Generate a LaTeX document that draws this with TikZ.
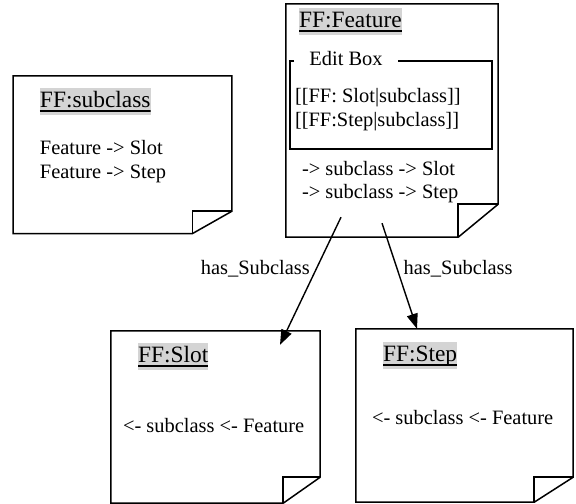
\documentclass[tikz,border=0pt]{standalone}
\usepackage{fontspec}
\setmainfont{Liberation Serif}
\usepackage{tikz}
\usetikzlibrary{arrows.meta,positioning}

\newcommand{\bodysize}{\fontsize{20.5}{24}\selectfont}
\newcommand{\titlesize}{\fontsize{23.5}{27}\selectfont}
% page outline with the folded corner (node, fold width, fold height)
\newcommand{\dogear}[3]{%
  \draw[noteline] (#1.south west) -- (#1.north west) -- (#1.north east)
    -- ([yshift=#3]#1.south east) -- ([xshift=-#2]#1.south east) -- cycle;
  \draw[noteline] ([xshift=-#2]#1.south east) -- ([xshift=-#2,yshift=#3]#1.south east)
    -- ([yshift=#3]#1.south east);}

\begin{document}
\begin{tikzpicture}[
    x=1bp, y=-1bp,
    note/.style={rectangle, inner sep=0pt},
    noteline/.style={line width=1.5bp, line join=miter},
    title/.style={anchor=base west, fill=black!17, inner sep=0pt, text height=20bp, text depth=7bp, font=\titlesize,
      path picture={\draw[line width=1.5bp] ([yshift=4bp]path picture bounding box.south west) -- ([yshift=4bp]path picture bounding box.south east);}},
    body/.style={anchor=base west, inner sep=0pt, font=\bodysize},
    arrow/.style={-{Triangle[length=15bp,width=11bp]}, line width=1.4bp},
    lbl/.style={inner sep=0pt, font=\bodysize}
]
    \useasboundingbox (0,0) rectangle (576,504);

    % Pages
    \node[note, minimum width=218.4bp, minimum height=157.3bp] (subclass) at (122.5,154.7) {};
    \node[note, minimum width=212bp, minimum height=233bp] (feature) at (392,120.5) {};
    \node[note, minimum width=209bp, minimum height=172bp] (slot) at (215.5,417) {};
    \node[note, minimum width=217bp, minimum height=173bp] (step) at (464.5,415.5) {};

    \dogear{subclass}{39.4bp}{22.3bp}
    \dogear{feature}{40bp}{33bp}
    \dogear{slot}{37bp}{26bp}
    \dogear{step}{39bp}{25bp}

    % FF:subclass
    \node[title] (subT) at ([xshift=26.7bp,yshift=-32bp]subclass.north west) {FF:subclass};
    \node[body] (sub1) at ([xshift=26.7bp,yshift=-79bp]subclass.north west) {Feature -> Slot};
    \node[body] (sub2) at ([yshift=-24bp]sub1.base west) {Feature -> Step};

    % FF:Feature
    \node[title] (featT) at ([xshift=13bp,yshift=-24bp]feature.north west) {FF:Feature};
    \node[note, minimum width=202bp, minimum height=88bp] (editbox) at (391,105) {};
    \node[lbl, anchor=base, inner xsep=15bp] (edithead) at (346,66) {Edit Box};
    \draw[noteline] (edithead.west |- editbox.north) -- (editbox.north west) -- (editbox.south west)
      -- (editbox.south east) -- (editbox.north east) -- (edithead.east |- editbox.north);
    \node[body] (edit1) at ([xshift=5bp,yshift=-42bp]editbox.north west) {[[FF: Slot|subclass]]};
    \node[body] (edit2) at ([yshift=-24bp]edit1.base west) {[[FF:Step|subclass]]};
    \node[body] (feat1) at ([xshift=16bp,yshift=-172bp]feature.north west) {-> subclass -> Slot};
    \node[body] (feat2) at ([yshift=-23bp]feat1.base west) {-> subclass -> Step};

    % FF:Slot
    \node[title] (slotT) at ([xshift=27bp,yshift=-32bp]slot.north west) {FF:Slot};
    \node[body] (slot1) at ([xshift=12bp,yshift=-102bp]slot.north west) {<- subclass <- Feature};

    % FF:Step
    \node[title] (stepT) at ([xshift=27bp,yshift=-33bp]step.north west) {FF:Step};
    \node[body] (step1) at ([xshift=16bp,yshift=-96bp]step.north west) {<- subclass <- Feature};

    % Arrows
    \draw[arrow] ([xshift=-51bp,yshift=20bp]feature.south) -- ([xshift=64.5bp,yshift=-14bp]slot.north)
      node[lbl, pos=0.45, anchor=base east, xshift=-3bp] (hasL) {has\_Subclass};
    \draw[arrow] ([xshift=-10bp,yshift=14bp]feature.south) -- ([xshift=-47.5bp]step.north)
      node[lbl, pos=0.486, anchor=base west, xshift=4bp] (hasR) {has\_Subclass};

\end{tikzpicture}
\end{document}
